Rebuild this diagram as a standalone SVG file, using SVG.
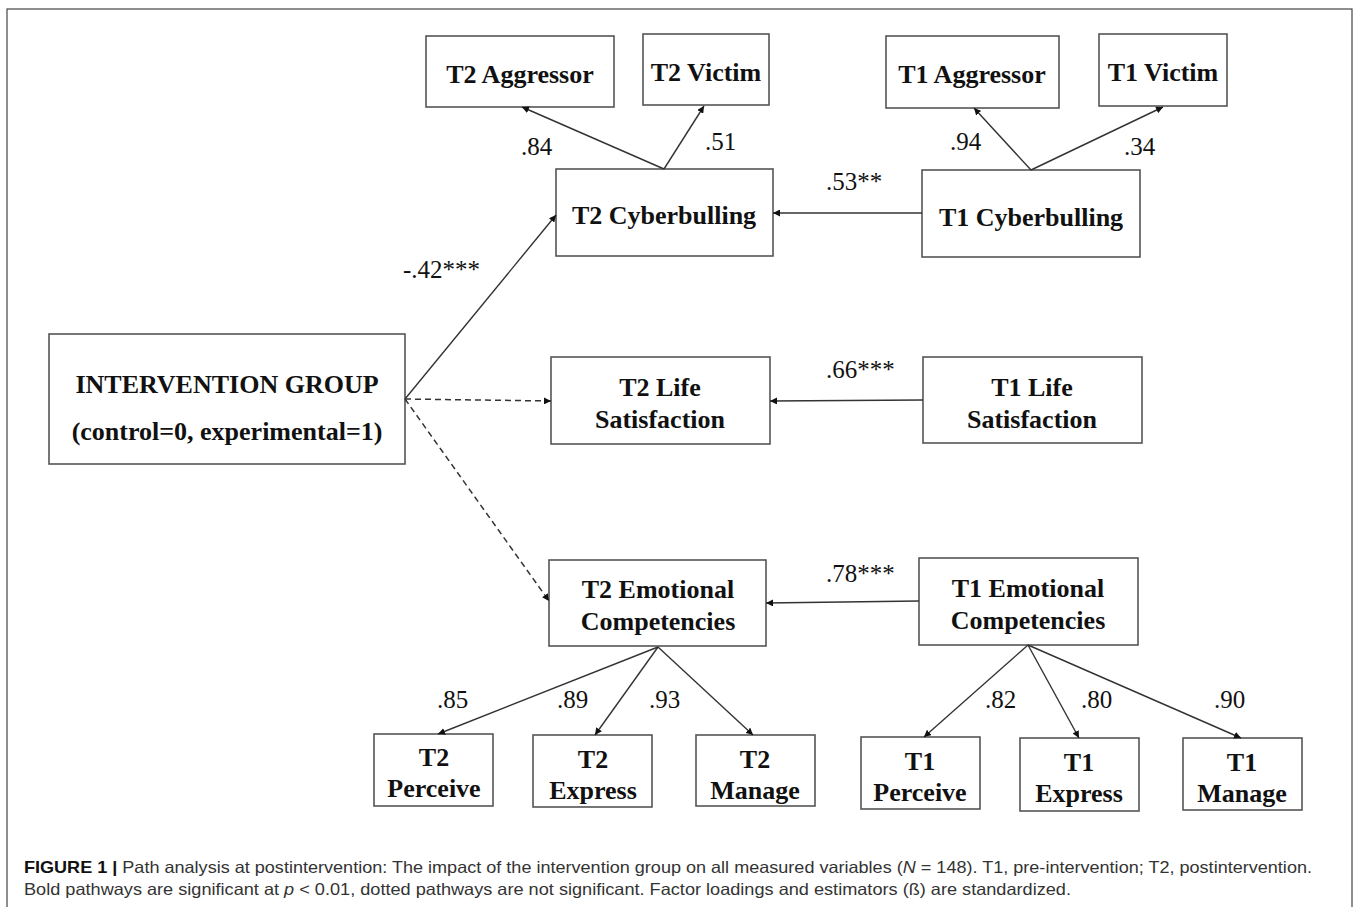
<svg xmlns="http://www.w3.org/2000/svg" width="1358" height="907" viewBox="0 0 1358 907">
<style>
.box{fill:#fff;stroke:#555;stroke-width:1.6}
.nt{font-family:"Liberation Serif","Times New Roman",serif;font-weight:bold;font-size:26px;fill:#111;text-anchor:middle}
.lb{font-family:"Liberation Serif","Times New Roman",serif;font-size:25px;fill:#111}
.ln{stroke:#333;stroke-width:1.4;fill:none}
.dash{stroke-dasharray:6,4;stroke-width:1.5}
.cap{font-family:"Liberation Sans",Arial,sans-serif;font-size:16.5px;fill:#333}
</style>
<defs>
<marker id="ah" viewBox="0 0 10 10" refX="10" refY="5" markerWidth="7" markerHeight="7" markerUnits="userSpaceOnUse" orient="auto">
<path d="M0,0 L10,5 L0,10 z" fill="#111"/>
</marker>
</defs>
<rect x="7" y="9" width="1345" height="910" fill="none" stroke="#444" stroke-width="1.2"/>

<g id="t2-aggressor"><rect class="box" x="426" y="36" width="188" height="71"/><text class="nt" x="520" y="83">T2 Aggressor</text></g>
<g id="t2-victim"><rect class="box" x="643" y="34" width="126" height="71"/><text class="nt" x="706" y="81">T2 Victim</text></g>
<g id="t1-aggressor"><rect class="box" x="886" y="36" width="173" height="72"/><text class="nt" x="972" y="83">T1 Aggressor</text></g>
<g id="t1-victim"><rect class="box" x="1099" y="34" width="128" height="72"/><text class="nt" x="1163" y="81">T1 Victim</text></g>
<g id="t2-cyber"><rect class="box" x="556" y="169" width="217" height="87"/><text class="nt" x="664" y="224">T2 Cyberbulling</text></g>
<g id="t1-cyber"><rect class="box" x="922" y="170" width="218" height="87"/><text class="nt" x="1031" y="226">T1 Cyberbulling</text></g>
<g id="intervention"><rect class="box" x="49" y="334" width="356" height="130"/><text class="nt" x="227" y="393">INTERVENTION GROUP</text><text class="nt" x="227" y="440">(control=0, experimental=1)</text></g>
<g id="t2-life"><rect class="box" x="551" y="357" width="219" height="87"/><text class="nt" x="660" y="396">T2 Life</text><text class="nt" x="660" y="428">Satisfaction</text></g>
<g id="t1-life"><rect class="box" x="923" y="357" width="219" height="86"/><text class="nt" x="1032" y="396">T1 Life</text><text class="nt" x="1032" y="428">Satisfaction</text></g>
<g id="t2-emo"><rect class="box" x="549" y="560" width="217" height="86"/><text class="nt" x="658" y="598">T2 Emotional</text><text class="nt" x="658" y="630">Competencies</text></g>
<g id="t1-emo"><rect class="box" x="919" y="558" width="219" height="87"/><text class="nt" x="1028" y="597">T1 Emotional</text><text class="nt" x="1028" y="629">Competencies</text></g>
<g id="t2-perceive"><rect class="box" x="374" y="734" width="119" height="72"/><text class="nt" x="434" y="766">T2</text><text class="nt" x="434" y="797">Perceive</text></g>
<g id="t2-express"><rect class="box" x="533" y="735" width="119" height="72"/><text class="nt" x="593" y="768">T2</text><text class="nt" x="593" y="799">Express</text></g>
<g id="t2-manage"><rect class="box" x="696" y="735" width="119" height="71"/><text class="nt" x="755" y="768">T2</text><text class="nt" x="755" y="799">Manage</text></g>
<g id="t1-perceive"><rect class="box" x="861" y="737" width="119" height="72"/><text class="nt" x="920" y="770">T1</text><text class="nt" x="920" y="801">Perceive</text></g>
<g id="t1-express"><rect class="box" x="1020" y="738" width="119" height="73"/><text class="nt" x="1079" y="771">T1</text><text class="nt" x="1079" y="802">Express</text></g>
<g id="t1-manage"><rect class="box" x="1183" y="738" width="119" height="72"/><text class="nt" x="1242" y="771">T1</text><text class="nt" x="1242" y="802">Manage</text></g>

<g id="connectors">
<line class="ln" x1="664" y1="169" x2="522" y2="107" marker-end="url(#ah)"/>
<line class="ln" x1="664" y1="169" x2="704" y2="106" marker-end="url(#ah)"/>
<line class="ln" x1="1031" y1="170" x2="974" y2="108" marker-end="url(#ah)"/>
<line class="ln" x1="1031" y1="170" x2="1163" y2="107" marker-end="url(#ah)"/>
<line class="ln" x1="922" y1="213" x2="773" y2="213" marker-end="url(#ah)"/>
<line class="ln" x1="405" y1="399" x2="556" y2="215" marker-end="url(#ah)"/>
<line class="ln dash" x1="405" y1="399" x2="551" y2="401" marker-end="url(#ah)"/>
<line class="ln dash" x1="405" y1="399" x2="549" y2="601" marker-end="url(#ah)"/>
<line class="ln" x1="923" y1="400" x2="770" y2="401" marker-end="url(#ah)"/>
<line class="ln" x1="919" y1="601" x2="766" y2="603" marker-end="url(#ah)"/>
<line class="ln" x1="658" y1="647" x2="438" y2="734" marker-end="url(#ah)"/>
<line class="ln" x1="658" y1="647" x2="595" y2="735" marker-end="url(#ah)"/>
<line class="ln" x1="658" y1="647" x2="753" y2="735" marker-end="url(#ah)"/>
<line class="ln" x1="1028" y1="645" x2="924" y2="737" marker-end="url(#ah)"/>
<line class="ln" x1="1028" y1="645" x2="1079" y2="738" marker-end="url(#ah)"/>
<line class="ln" x1="1028" y1="645" x2="1241" y2="738" marker-end="url(#ah)"/>
<text class="lb" x="521" y="155">.84</text>
<text class="lb" x="705" y="150">.51</text>
<text class="lb" x="950" y="150">.94</text>
<text class="lb" x="1124" y="155">.34</text>
<text class="lb" x="826" y="190">.53**</text>
<text class="lb" x="403" y="278">-.42***</text>
<text class="lb" x="826" y="378">.66***</text>
<text class="lb" x="826" y="582">.78***</text>
<text class="lb" x="437" y="708">.85</text>
<text class="lb" x="557" y="708">.89</text>
<text class="lb" x="649" y="708">.93</text>
<text class="lb" x="985" y="708">.82</text>
<text class="lb" x="1081" y="708">.80</text>
<text class="lb" x="1214" y="708">.90</text>
</g>

<text class="cap" x="24" y="873" textLength="1288" lengthAdjust="spacingAndGlyphs"><tspan font-weight="bold" fill="#111">FIGURE 1 |</tspan> Path analysis at postintervention: The impact of the intervention group on all measured variables (<tspan font-style="italic">N</tspan> = 148). T1, pre-intervention; T2, postintervention.</text>
<text class="cap" x="24" y="895" textLength="1047" lengthAdjust="spacingAndGlyphs">Bold pathways are significant at <tspan font-style="italic">p</tspan> &lt; 0.01, dotted pathways are not significant. Factor loadings and estimators (ß) are standardized.</text>
</svg>
